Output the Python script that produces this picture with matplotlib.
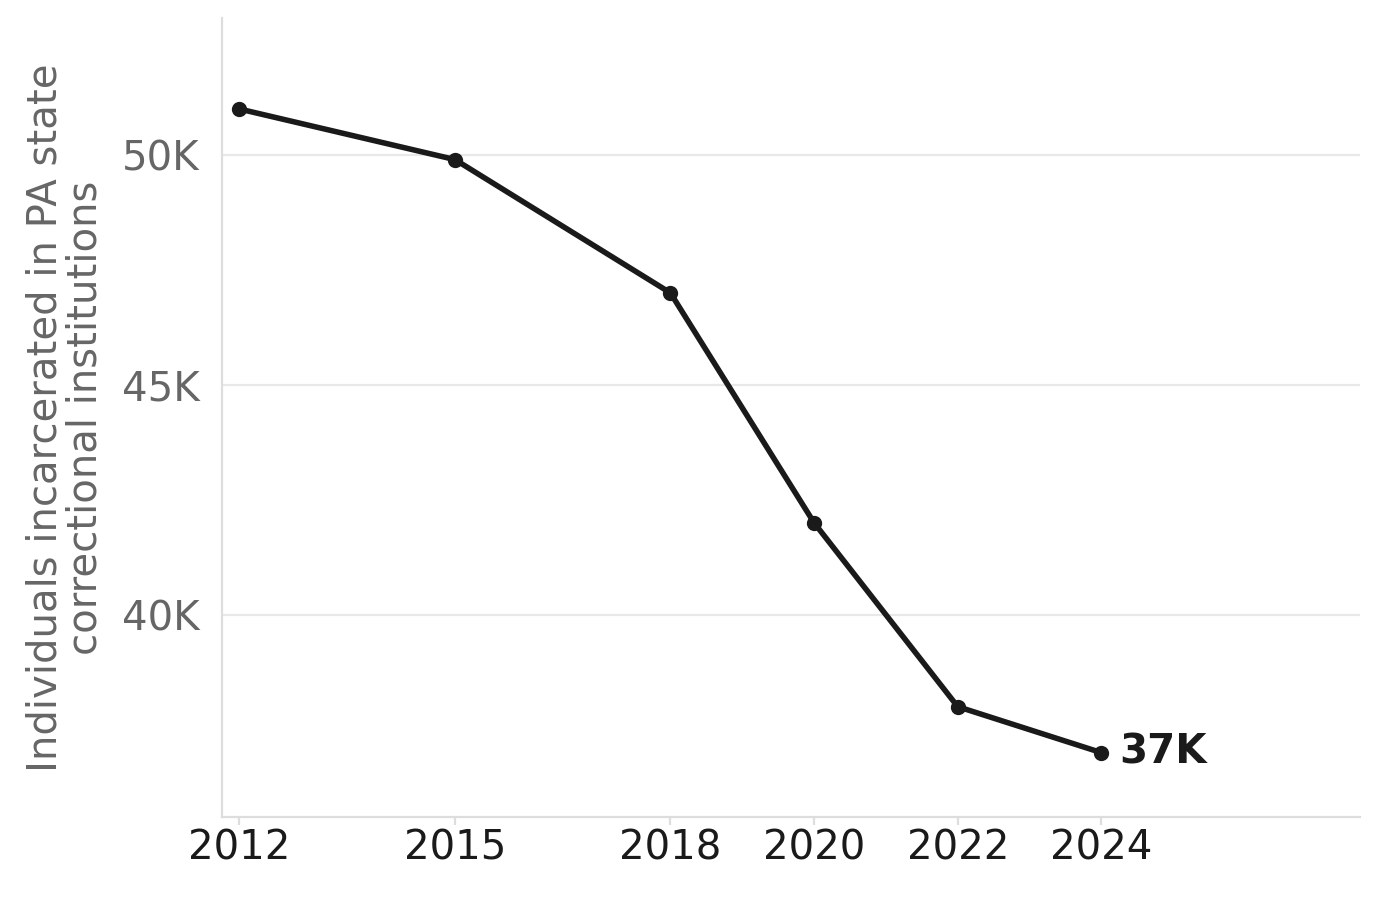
import matplotlib
matplotlib.use("Agg")
import matplotlib.pyplot as plt
from matplotlib.ticker import FuncFormatter

years = [2012, 2015, 2018, 2020, 2022, 2024]
population = [51000, 49900, 47000, 42000, 38000, 37000]
yticks = [40000, 45000, 50000]

fig = plt.figure(figsize=(6.9, 4.495), dpi=200)
ax = fig.add_axes([0.161, 0.0912, 0.8245, 0.8888])
ax.plot(years, population, color="#1a1a1a", lw=2, marker="o", ms=4.5, zorder=3)
ax.text(years[-1] + 0.25, population[-1], "37K", fontsize=14.5, fontweight="bold",
        color="#1a1a1a", va="center", ha="left")
ax.set_xlim(2011.76, 2027.6)
ax.set_ylim(35600, 52980)
ax.set_xticks(years)
ax.set_yticks(yticks)
ax.yaxis.set_major_formatter(FuncFormatter(lambda v, p: f"{int(v/1000)}K"))
ax.grid(axis="y", color="#e8e8e8", lw=0.8)
ax.set_axisbelow(True)
for s in ["top", "right"]:
    ax.spines[s].set_visible(False)
for s in ["left", "bottom"]:
    ax.spines[s].set_color("#dddddd")
ax.tick_params(axis="y", length=0, labelsize=14.5, labelcolor="#666666", pad=8)
ax.tick_params(axis="x", length=3, color="#dddddd", labelsize=14.5, labelcolor="#1a1a1a", pad=1)
ax.set_ylabel("Individuals incarcerated in PA state\ncorrectional institutions",
              fontsize=14.5, color="#666666", linespacing=1.0, labelpad=6)
fig.savefig("out.png", dpi=200)
